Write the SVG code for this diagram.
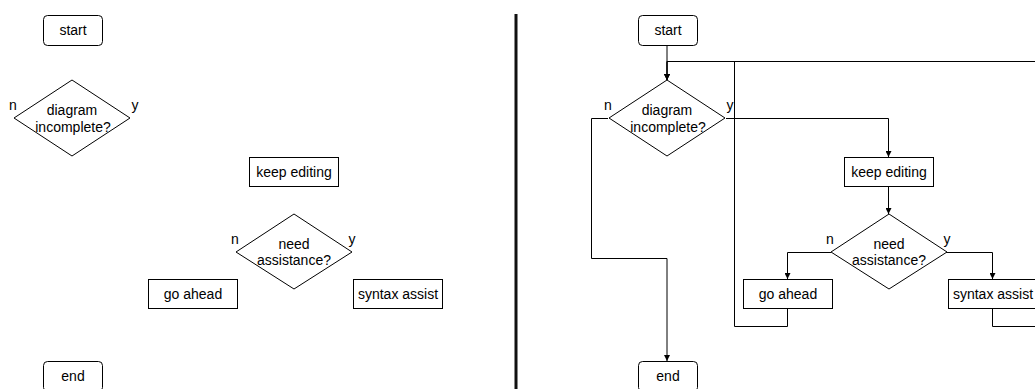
<svg xmlns="http://www.w3.org/2000/svg" width="1035" height="389" viewBox="0 0 1035 389">
<style>
.box{fill:#fff;stroke:#000;stroke-width:1}
.t{font-family:"Liberation Sans",Arial,sans-serif;font-size:14px;fill:#000;text-anchor:middle}
.lbl{font-family:"Liberation Sans",Arial,sans-serif;font-size:14px;fill:#000;text-anchor:middle}
.c{fill:none;stroke:#000;stroke-width:1}
</style>
<defs>
<marker id="ah" viewBox="0 0 10 10" refX="10" refY="5" markerWidth="6" markerHeight="6" markerUnits="userSpaceOnUse" orient="auto">
<path d="M0,0 L10,5 L0,10 z" fill="#000"/>
</marker>
</defs>
<rect width="1035" height="389" fill="#fff"/>
<g id="left-start"><rect class="box" x="43.5" y="15.5" width="59" height="30" rx="4"/><text class="t" x="73" y="35">start</text></g>
<g id="left-diagram-incomplete"><polygon class="box" points="72,80 130,118 72,156 14,118"/><text class="t" x="72" y="115">diagram</text><text class="t" x="73" y="132">incomplete?</text><text class="lbl" x="13" y="110">n</text><text class="lbl" x="135" y="110">y</text></g>
<g id="left-keep-editing"><rect class="box" x="249.5" y="157.5" width="89" height="29"/><text class="t" x="294" y="176.5">keep editing</text></g>
<g id="left-need-assistance"><polygon class="box" points="294,214 352,252 294,289 236,252"/><text class="t" x="294" y="249">need</text><text class="t" x="294" y="265">assistance?</text><text class="lbl" x="235" y="244">n</text><text class="lbl" x="352" y="244">y</text></g>
<g id="left-go-ahead"><rect class="box" x="148.5" y="279.5" width="89" height="29"/><text class="t" x="193" y="299">go ahead</text></g>
<g id="left-syntax-assist"><rect class="box" x="353.5" y="279.5" width="89" height="29"/><text class="t" x="398" y="299">syntax assist</text></g>
<g id="left-end"><rect class="box" x="43.5" y="361.5" width="59" height="30" rx="4"/><text class="t" x="73" y="381">end</text></g>

<g id="divider"><line x1="516" y1="14" x2="516" y2="389" stroke="#111" stroke-width="3"/></g>

<g id="connectors">
<path class="c" d="M667,45 V80" marker-end="url(#ah)"/>
<path class="c" d="M726,118.5 H888.5 V157" marker-end="url(#ah)"/>
<path class="c" d="M608,118.5 H591.5 V258.5 H667 V361" marker-end="url(#ah)"/>
<path class="c" d="M888.5,186 V214" marker-end="url(#ah)"/>
<path class="c" d="M831,252.5 H787.5 V279" marker-end="url(#ah)"/>
<path class="c" d="M946,252.5 H992.5 V279" marker-end="url(#ah)"/>
<path class="c" d="M787.5,309 V326.5 H734.5 V61.5 H667 V80" marker-end="url(#ah)"/>
<path class="c" d="M992.5,309 V326.5 H1040 V61.5 H667 V80" marker-end="url(#ah)"/>
</g>

<g transform="translate(595,0)">
<g id="right-start"><rect class="box" x="43.5" y="15.5" width="59" height="30" rx="4"/><text class="t" x="73" y="35">start</text></g>
<g id="right-diagram-incomplete"><polygon class="box" points="72,80 130,118 72,156 14,118"/><text class="t" x="72" y="115">diagram</text><text class="t" x="73" y="132">incomplete?</text><text class="lbl" x="13" y="110">n</text><text class="lbl" x="135" y="110">y</text></g>
<g id="right-keep-editing"><rect class="box" x="249.5" y="157.5" width="89" height="29"/><text class="t" x="294" y="176.5">keep editing</text></g>
<g id="right-need-assistance"><polygon class="box" points="294,214 352,252 294,289 236,252"/><text class="t" x="294" y="249">need</text><text class="t" x="294" y="265">assistance?</text><text class="lbl" x="235" y="244">n</text><text class="lbl" x="352" y="244">y</text></g>
<g id="right-go-ahead"><rect class="box" x="148.5" y="279.5" width="89" height="29"/><text class="t" x="193" y="299">go ahead</text></g>
<g id="right-syntax-assist"><rect class="box" x="353.5" y="279.5" width="89" height="29"/><text class="t" x="398" y="299">syntax assist</text></g>
<g id="right-end"><rect class="box" x="43.5" y="361.5" width="59" height="30" rx="4"/><text class="t" x="73" y="381">end</text></g>
</g>
</svg>
